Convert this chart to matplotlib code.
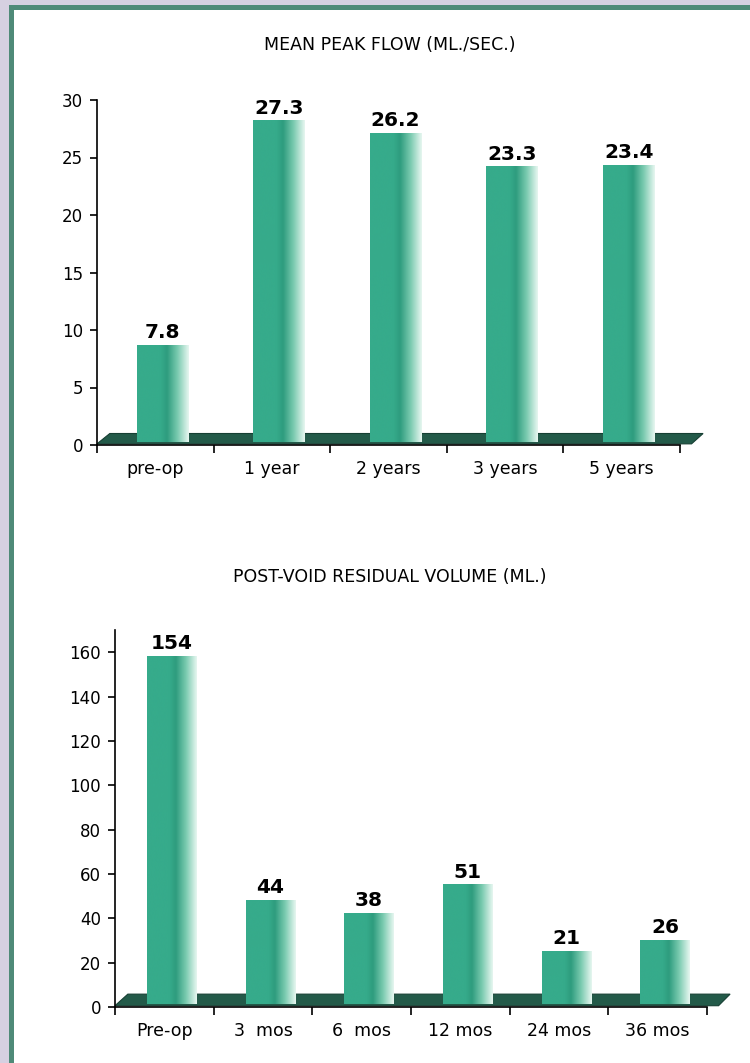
import numpy as np
import matplotlib
matplotlib.use("Agg")
import matplotlib.pyplot as plt
from matplotlib.colors import LinearSegmentedColormap
from matplotlib.patches import Rectangle, Polygon

# ---- data ----
flow_title = "MEAN PEAK FLOW (ML./SEC.)"
flow_categories = ["pre-op", "1 year", "2 years", "3 years", "5 years"]
flow_values = [7.8, 27.3, 26.2, 23.3, 23.4]
flow_labels = ["7.8", "27.3", "26.2", "23.3", "23.4"]
flow_yticks = [0, 5, 10, 15, 20, 25, 30]

pvr_title = "POST-VOID RESIDUAL VOLUME (ML.)"
pvr_categories = ["Pre-op", "3  mos", "6  mos", "12 mos", "24 mos", "36 mos"]
pvr_values = [154, 44, 38, 51, 21, 26]
pvr_labels = ["154", "44", "38", "51", "21", "26"]
pvr_yticks = [0, 20, 40, 60, 80, 100, 120, 140, 160]

plt.rcParams['font.family'] = ['DejaVu Sans']

bar_cmap = LinearSegmentedColormap.from_list(
    "bar", [(0.0, "#36ab8b"), (0.45, "#36ab8b"), (0.58, "#2e9c7e"),
            (0.78, "#79caaf"), (1.0, "#e8f7f1")])
FLOOR = "#235a49"
FLOOR_EDGE = "#163f33"

fig = plt.figure(figsize=(7.5, 10.63), dpi=100)
fig.patch.set_facecolor("#d6d0e1")
# white panel with green-grey border
panel = Rectangle((11 / 750, -0.05), 1.0, 1 - 6.5 / 1063 + 0.05,
                  transform=fig.transFigure, facecolor="white",
                  edgecolor="#4f8a78", linewidth=3.6, zorder=-5)
fig.patches.append(panel)


def draw_chart(rect, cats, vals, labels, yticks, ymax, title, title_y,
               bar_w, shift, depth, dx, bar_base, lift, label_size):
    ax = fig.add_axes(rect)
    ax.set_facecolor("none")
    n = len(cats)
    # floor slab
    floor = Polygon([(0, depth * 0.1), (n + dx * 0.9, depth * 0.1),
                     (n + dx * 1.8, depth), (dx, depth)],
                    closed=True, facecolor=FLOOR, edgecolor=FLOOR_EDGE,
                    linewidth=0.8, zorder=2, clip_on=False)
    ax.add_patch(floor)
    grad = np.linspace(0, 1, 256).reshape(1, -1)
    for i, v in enumerate(vals):
        c = i + 0.5 + shift
        x0, x1 = c - bar_w / 2, c + bar_w / 2
        top = v + lift
        ax.imshow(grad, extent=[x0, x1, bar_base, top], aspect="auto",
                  cmap=bar_cmap, interpolation="bicubic", zorder=3,
                  origin="lower")
        ax.annotate(labels[i], (c, top), xytext=(0, 2),
                    textcoords="offset points", ha="center", va="bottom",
                    fontsize=label_size, fontweight="bold", color="black",
                    zorder=5)
    ax.set_xlim(0, n)
    ax.set_ylim(0, ymax)
    for s in ["top", "right"]:
        ax.spines[s].set_visible(False)
    for s in ["left", "bottom"]:
        ax.spines[s].set_linewidth(1.2)
        ax.spines[s].set_color("black")
        ax.spines[s].set_zorder(6)
    ax.set_yticks(yticks)
    ax.set_yticklabels([str(t) for t in yticks], fontsize=12)
    ax.tick_params(axis="y", direction="out", length=5, width=1.2, pad=5)
    ax.set_xticks(np.arange(0, n + 1))
    ax.set_xticklabels([])
    ax.tick_params(axis="x", which="major", direction="out", length=6,
                   width=1.2)
    ax.set_xticks(np.arange(n) + 0.5, minor=True)
    ax.set_xticklabels(cats, minor=True, fontsize=12.5)
    ax.tick_params(axis="x", which="minor", length=0, pad=11)
    fig.text(0.52, title_y, title, ha="center", va="center", fontsize=12.5)
    return ax


draw_chart([97 / 750, 1 - 445 / 1063, 583 / 750, 345 / 1063],
           flow_categories, flow_values, flow_labels, flow_yticks, 30,
           flow_title, 1 - 45 / 1063,
           bar_w=0.44, shift=0.06, depth=1.0, dx=0.11, bar_base=0.3,
           lift=0.93, label_size=14.5)

draw_chart([115 / 750, 1 - 1007 / 1063, 592 / 750, 377 / 1063],
           pvr_categories, pvr_values, pvr_labels, pvr_yticks, 170,
           pvr_title, 1 - 577 / 1063,
           bar_w=0.5, shift=0.075, depth=5.8, dx=0.13, bar_base=1.5,
           lift=4.3, label_size=14.5)

fig.savefig("out.png", dpi=100, facecolor=fig.get_facecolor())
